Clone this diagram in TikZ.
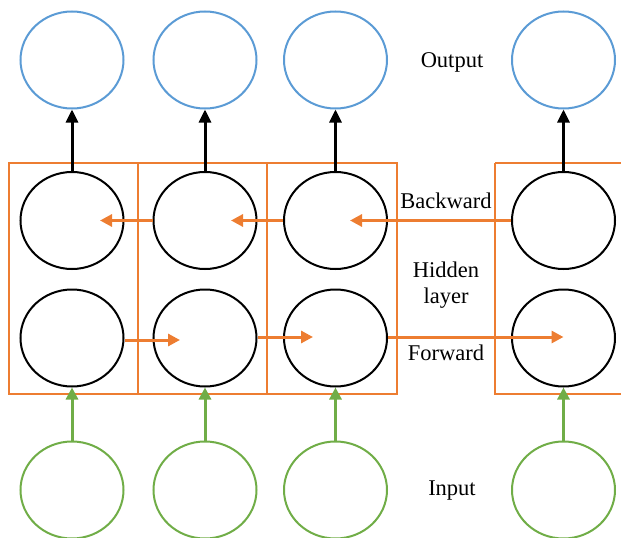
\documentclass[tikz,border=0pt]{standalone}
\usepackage{fontspec}
\setmainfont{Liberation Serif}
\usetikzlibrary{arrows.meta,shapes.geometric}
\definecolor{outblue}{RGB}{91,155,213}
\definecolor{hidorange}{RGB}{237,125,49}
\definecolor{ingreen}{RGB}{112,173,71}
\tikzset{
    unit/.style={ellipse, draw, line width=2pt, minimum width=103pt, minimum height=97pt, inner sep=0pt},
    label/.style={font=\fontsize{22.5}{26}\selectfont, align=center},
    upblack/.style={line width=3pt, -{Triangle[length=13pt,width=12pt]}},
    sideorange/.style={hidorange, line width=3pt, -{Triangle[length=12pt,width=12pt]}},
    upgreen/.style={ingreen, line width=3pt, -{Triangle[length=12pt,width=12pt]}},
    cellbox/.style={hidorange, line width=1.5pt}
}

\begin{document}
\begin{tikzpicture}[x=1pt,y=-1pt]
\useasboundingbox (0,0) rectangle (622,538);
% boxes of the hidden layer
\draw[cellbox] (9,163) rectangle (138,394);
\draw[cellbox] (138,163) rectangle (267,394);
\draw[cellbox] (267,163) rectangle (397,394);
\draw[cellbox] (495,163) -- (621,163);
\draw[cellbox] (495,163) -- (495,394) -- (621,394);
% units
\foreach \i/\x in {1/72,2/205,3/335.5,4/563.5} {
    \node[unit, draw=outblue] (out\i) at (\x,60) {};
    \node[unit] (bw\i) at (\x,220.5) {};
    \node[unit] (fw\i) at (\x,338) {};
    \node[unit, draw=ingreen] (in\i) at (\x,490) {};
    \draw[upblack] (bw\i.north) -- (out\i.south);
    \draw[upgreen] (in\i.north) -- (fw\i.south);
}
% free ends of the side arrows
\coordinate (B1) at (100,220.5);
\coordinate (B2) at (231,220.5);
\coordinate (B3) at (350,220.5);
\coordinate (F2) at (180,340);
\coordinate (F3) at (313,337);
\draw[sideorange] (bw2.west) -- (B1);
\draw[sideorange] (bw3.west) -- (B2);
\draw[sideorange] (bw4.west) -- (B3);
\draw[sideorange] (fw1.east |- F2) -- (F2);
\draw[sideorange] (fw2.east |- F3) -- (F3);
\draw[sideorange] (fw3.east |- F3) -- (fw4.center |- F3);
% texts
\node[label] (outtext) at (452,62) {Output};
\node[label] (bwtext) at (446,201) {Backward};
\node[label] (hidtext) at (446,285) {Hidden\\layer};
\node[label] (fwtext) at (446,353) {Forward};
\node[label] (intext) at (452,491) {Input};
\end{tikzpicture}
\end{document}
